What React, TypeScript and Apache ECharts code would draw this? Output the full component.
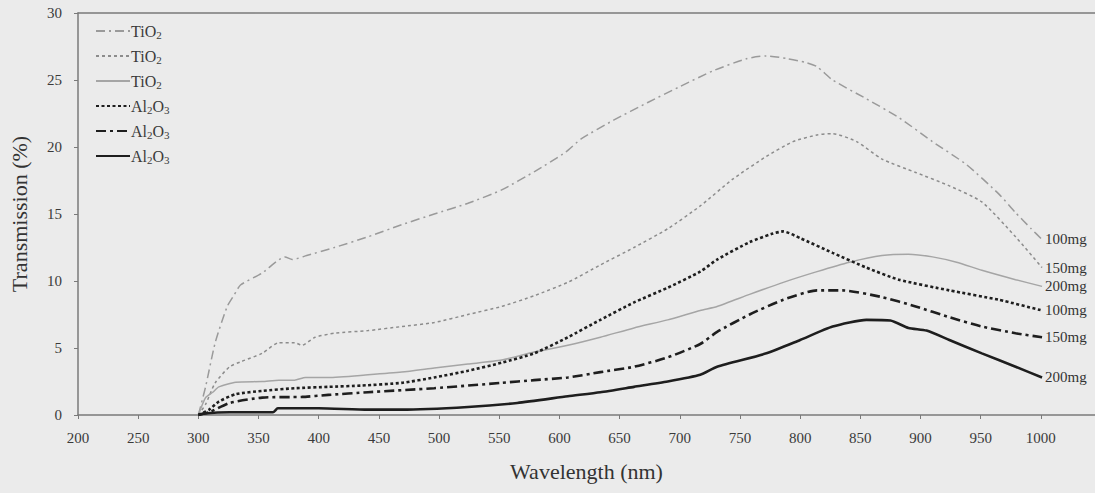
import React, { useEffect, useRef } from "react";
import * as echarts from "echarts";

const xTicks = [200, 250, 300, 350, 400, 450, 500, 550, 600, 650, 700, 750, 800, 850, 900, 950, 1000];

const seriesNames = ["TiO2 100mg", "TiO2 150mg", "TiO2 200mg", "Al2O3 100mg", "Al2O3 150mg", "Al2O3 200mg"];
const endLabels = ["100mg", "150mg", "200mg", "100mg", "150mg", "200mg"];

const tio2_100: [number, number][] = [
  [300, 0], [306, 2.1], [314, 5.4], [324, 8.1], [330, 9.0], [335, 9.7], [353, 10.6], [372, 11.8], [378, 11.6],
  [390, 11.9], [413, 12.5], [441, 13.3], [469, 14.2], [496, 15.0], [524, 15.8], [552, 16.8], [580, 18.2],
  [605, 19.6], [618, 20.6], [645, 22.0], [673, 23.3], [700, 24.5], [728, 25.7], [756, 26.6], [772, 26.8],
  [789, 26.6], [805, 26.3], [814, 26.0], [827, 25.0], [855, 23.6], [882, 22.2], [910, 20.4], [938, 18.7],
  [965, 16.5], [979, 15.1], [992, 13.9], [1001, 13.1],
];
const tio2_150: [number, number][] = [
  [300, 0], [306, 0.8], [314, 2.4], [326, 3.6], [336, 4.0], [353, 4.6], [367, 5.4], [380, 5.4], [386, 5.2],
  [397, 5.8], [413, 6.1], [441, 6.3], [469, 6.6], [496, 6.9], [524, 7.5], [552, 8.1], [579, 8.9], [607, 9.9],
  [634, 11.2], [662, 12.5], [690, 13.9], [717, 15.6], [744, 17.6], [772, 19.3], [794, 20.4], [814, 20.9],
  [827, 21.0], [847, 20.4], [868, 19.1], [896, 18.1], [924, 17.1], [951, 15.9], [979, 13.3], [1001, 11.0],
];
const tio2_200: [number, number][] = [
  [300, 0], [306, 1.3], [312, 1.7], [317, 2.1], [331, 2.45], [353, 2.5], [367, 2.6], [380, 2.6], [389, 2.8],
  [408, 2.8], [441, 3.0], [469, 3.2], [496, 3.5], [524, 3.8], [552, 4.1], [579, 4.7], [607, 5.2], [634, 5.8],
  [662, 6.5], [690, 7.1], [717, 7.8], [731, 8.1], [758, 9.0], [786, 9.9], [814, 10.7], [841, 11.4], [868, 11.9],
  [890, 12.0], [910, 11.8], [930, 11.4], [951, 10.8], [979, 10.1], [1001, 9.6],
];
const al2o3_100: [number, number][] = [
  [300, 0], [309, 0.4], [317, 1.0], [331, 1.55], [353, 1.8], [380, 2.0], [408, 2.1], [436, 2.2], [469, 2.4],
  [496, 2.8], [524, 3.3], [552, 3.9], [579, 4.6], [607, 5.8], [634, 7.1], [662, 8.4], [690, 9.5], [717, 10.7],
  [731, 11.6], [758, 12.9], [776, 13.5], [786, 13.7], [800, 13.2], [827, 12.1], [855, 11.0], [882, 10.1],
  [924, 9.3], [965, 8.6], [1001, 7.8],
];
const al2o3_150: [number, number][] = [
  [300, 0], [309, 0.2], [326, 0.9], [353, 1.3], [386, 1.35], [408, 1.5], [441, 1.7], [496, 2.0], [552, 2.4],
  [579, 2.6], [607, 2.8], [634, 3.2], [662, 3.6], [690, 4.3], [717, 5.3], [731, 6.2], [758, 7.5], [786, 8.6],
  [814, 9.3], [835, 9.3], [868, 8.8], [896, 8.1], [924, 7.3], [951, 6.6], [979, 6.1], [1001, 5.8],
];
const al2o3_200: [number, number][] = [
  [300, 0], [304, 0.1], [326, 0.2], [362, 0.2], [366, 0.5], [400, 0.5], [441, 0.4], [469, 0.4], [524, 0.6],
  [565, 0.9], [607, 1.4], [634, 1.7], [662, 2.1], [690, 2.5], [717, 3.0], [731, 3.6], [772, 4.6], [800, 5.6],
  [827, 6.6], [855, 7.1], [875, 7.05], [890, 6.5], [905, 6.3], [924, 5.6], [951, 4.6], [979, 3.6], [1001, 2.8],
];

const allData = [tio2_100, tio2_150, tio2_200, al2o3_100, al2o3_150, al2o3_200];

const FONT = "'Liberation Serif', 'DejaVu Serif', serif";
const lineStyles = [
  { color: "#9a9a9a", width: 1.5, type: [9, 4, 2, 4] },
  { color: "#8c8c8c", width: 1.5, type: [3, 3] },
  { color: "#a5a5a5", width: 1.5, type: "solid" },
  { color: "#1e1e1e", width: 2.6, type: [3, 2.5] },
  { color: "#1e1e1e", width: 2.6, type: [10, 4, 3, 4] },
  { color: "#1e1e1e", width: 2.6, type: "solid" },
];

export default function App() {
  const ref = useRef<HTMLDivElement>(null);
  useEffect(() => {
    if (!ref.current) return;
    const chart = echarts.init(ref.current, null, { renderer: "svg" });
    chart.setOption({
      animation: false,
      backgroundColor: "#ebebeb",
      grid: { left: 75, top: 13, right: 0, bottom: 78 },
      legend: {
        show: true,
        orient: "vertical",
        left: 90,
        top: 18,
        itemWidth: 34,
        itemHeight: 14,
        itemGap: 8,
        selectedMode: false,
        data: seriesNames,
        itemStyle: { color: "rgba(0,0,0,0)", borderColor: "rgba(0,0,0,0)", borderWidth: 0, opacity: 0 },
        formatter: (name: string) => (name.startsWith("TiO2") ? "TiO{s|2}" : "Al{s|2}O{s|3}"),
        textStyle: {
          fontFamily: FONT,
          fontSize: 16,
          color: "#3a3a3a",
          padding: [0, 0, 0, -4],
          rich: { s: { fontFamily: FONT, fontSize: 11, color: "#3a3a3a", padding: [7, 0, 0, 0] } },
        },
      },
      xAxis: [
        {
          type: "value",
          min: 200,
          max: 1045,
          interval: 50,
          name: "Wavelength (nm)",
          nameLocation: "middle",
          nameGap: 45,
          nameTextStyle: { fontFamily: FONT, fontSize: 22, color: "#333" },
          axisLine: { lineStyle: { color: "#7a7a7a", width: 1.5 } },
          axisTick: { show: true, length: 4, customValues: xTicks, lineStyle: { color: "#7a7a7a" } },
          axisLabel: {
            customValues: xTicks,
            margin: 15,
            fontFamily: FONT,
            fontSize: 15,
            color: "#3a3a3a",
            formatter: (v: number) => String(v),
          },
          splitLine: { show: false },
        },
        {
          type: "value",
          position: "top",
          min: 200,
          max: 1045,
          axisLine: { show: true, lineStyle: { color: "#7a7a7a", width: 1.5 } },
          axisTick: { show: false },
          axisLabel: { show: false },
          splitLine: { show: false },
        },
      ],
      yAxis: {
        type: "value",
        min: 0,
        max: 30,
        interval: 5,
        name: "Transmission (%)",
        nameLocation: "middle",
        nameGap: 48,
        nameRotate: 90,
        nameTextStyle: { fontFamily: FONT, fontSize: 22, color: "#333" },
        axisLine: { show: true, lineStyle: { color: "#7a7a7a", width: 1.5 } },
        axisTick: { show: true, length: 4, lineStyle: { color: "#7a7a7a" } },
        axisLabel: { margin: 16, fontFamily: FONT, fontSize: 15, color: "#3a3a3a" },
        splitLine: { show: false },
      },
      series: allData.map((d, i) => ({
        name: seriesNames[i],
        type: "line",
        data: d,
        symbol: "none",
        smooth: 0.2,
        lineStyle: lineStyles[i],
        itemStyle: { color: lineStyles[i].color },
        endLabel: {
          show: true,
          formatter: endLabels[i],
          distance: 3,
          fontFamily: FONT,
          fontSize: 15,
          color: "#333",
        },
      })),
    });
    return () => chart.dispose();
  }, []);
  return (
    <div
      ref={ref}
      style={{ position: "fixed", left: 0, top: 0, width: 1095, height: 493 }}
    />
  );
}
